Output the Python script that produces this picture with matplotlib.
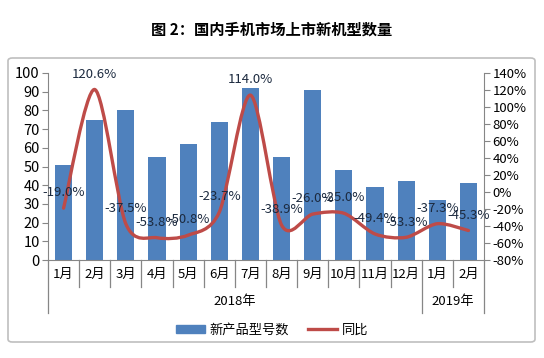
import numpy as np
import matplotlib
matplotlib.use("Agg")
import matplotlib.pyplot as plt
from matplotlib.path import Path
from matplotlib.patches import PathPatch, FancyBboxPatch
from matplotlib.lines import Line2D
from matplotlib.patches import Patch

plt.rcParams['font.family'] = ['Noto Sans CJK SC', 'DejaVu Sans']

# data
months = ['1月', '2月', '3月', '4月', '5月', '6月', '7月', '8月', '9月', '10月', '11月', '12月', '1月', '2月']
years = ['2018年', '2019年']
year_spans = [(0, 12), (12, 14)]
new_models = [51, 75, 80, 55, 62, 74, 92, 55, 91, 48, 39, 42, 32, 41]
yoy = [-19.0, 120.6, -37.5, -53.8, -50.8, -23.7, 114.0, -38.9, -26.0, -25.0, -49.4, -53.3, -37.3, -45.3]

bar_color = '#4f81bd'
line_color = '#be4b48'
axis_color = '#868686'

fig = plt.figure(figsize=(5.44, 3.58), dpi=100)

# outer chart frame (behind the axes)
frame = FancyBboxPatch((8 / 544, 1 - 342 / 358), 527 / 544, 284 / 358,
                       boxstyle='round,pad=0,rounding_size=0.008',
                       transform=fig.transFigure, fc='white', ec='#bfbfbf', lw=1.2, zorder=-5)
fig.patches.append(frame)

fig.text(0.5, 1 - 30 / 358, '图 2：国内手机市场上市新机型数量', ha='center', va='center',
         fontsize=11, fontweight='bold')

ax = fig.add_axes([48 / 544, 1 - 260 / 358, 436 / 544, 187 / 358])
ax2 = ax.twinx()
ax.patch.set_visible(False)
ax2.patch.set_visible(False)

x = np.arange(len(months))
ax.bar(x, new_models, width=0.55, color=bar_color, zorder=2)
ax.set_xlim(-0.5, len(months) - 0.5)
ax.set_ylim(0, 100)
ax.set_yticks(range(0, 101, 10))
ax.set_xticks([])

ax2.set_ylim(-80, 140)
ax2.set_yticks(range(-80, 141, 20))
ax2.set_yticklabels([f'{v}%' for v in range(-80, 141, 20)])

for a in (ax, ax2):
    a.spines['top'].set_visible(False)
    for s in ('left', 'right', 'bottom'):
        a.spines[s].set_color(axis_color)
    a.tick_params(axis='y', color=axis_color, length=4, pad=2)
ax.tick_params(axis='y', labelsize=10.5)
ax2.tick_params(axis='y', labelsize=9.5)
ax.spines['right'].set_visible(False)
ax2.spines['left'].set_visible(False)
ax2.spines['bottom'].set_visible(False)

# smoothed line (Bezier through the data points, like Excel's smoothed line)
pts = np.column_stack([x, yoy])
verts = [pts[0]]
codes = [Path.MOVETO]
n = len(pts)
k = 1 / 7
for i in range(n - 1):
    p0 = pts[max(i - 1, 0)]
    p1 = pts[i]
    p2 = pts[i + 1]
    p3 = pts[min(i + 2, n - 1)]
    c1 = p1 + (p2 - p0) * k
    c2 = p2 - (p3 - p1) * k
    verts += [c1, c2, p2]
    codes += [Path.CURVE4] * 3
ax2.add_patch(PathPatch(Path(verts, codes), fc='none', ec=line_color, lw=2.4,
                        capstyle='round', joinstyle='round', zorder=3))

for xi, v in zip(x, yoy):
    ax2.annotate(f'{v:.1f}%', (xi, v), xytext=(0, 11), textcoords='offset points',
                 ha='center', va='center', fontsize=9.5, color='#1c2a3f', zorder=4)

# category axis separators and labels
tr = ax.get_xaxis_transform()
for b in range(len(months) + 1):
    bx = b - 0.5
    if b == 0 or b == len(months) or b == 12:
        ax.plot([bx, bx], [0, -0.283], transform=tr, color=axis_color, lw=0.9, clip_on=False)
    else:
        ax.plot([bx, bx], [0, -0.144], transform=tr, color=axis_color, lw=0.9, clip_on=False)
for xi, m in zip(x, months):
    ax.text(xi, -0.075, m, transform=tr, ha='center', va='center', fontsize=9.5)
for yname, (s, e) in zip(years, year_spans):
    ax.text((s + e - 1) / 2, -0.22, yname, transform=tr, ha='center', va='center', fontsize=9.5)

handles = [Patch(color=bar_color), Line2D([0], [0], color=line_color, lw=2.4)]
fig.legend(handles, ['新产品型号数', '同比'], loc='center', bbox_to_anchor=(0.5, 1 - 330 / 358),
           ncol=2, frameon=False, fontsize=9.5, handlelength=2.2, handleheight=0.6,
           columnspacing=1.5, handletextpad=0.3)

fig.savefig('out.png', dpi=100)
